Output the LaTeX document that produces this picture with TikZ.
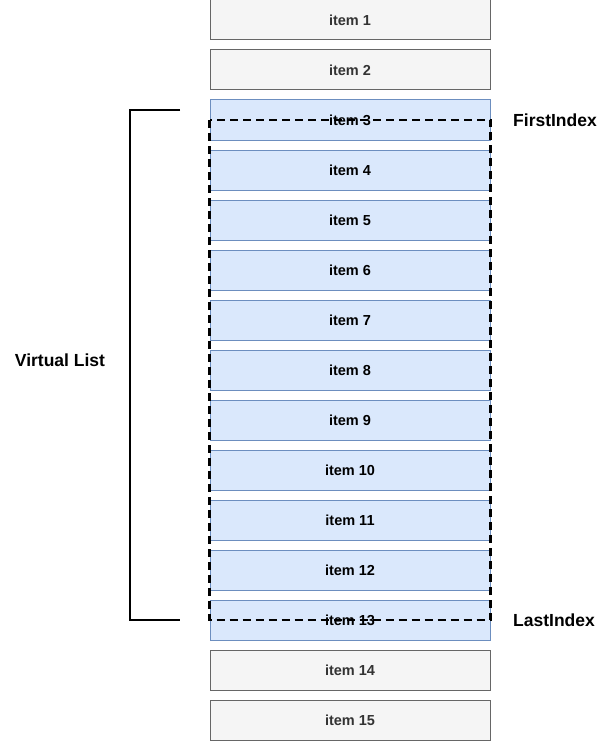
\documentclass[tikz,border=0pt]{standalone}
\usepackage{fontspec}
\setmainfont{Liberation Sans}
\usetikzlibrary{positioning}

\tikzset{
	item/.style={draw, line width=1pt, minimum width=280pt, minimum height=40pt, inner sep=0pt, font=\fontsize{14.5}{16}\selectfont\bfseries},
	outside/.style={item, draw=gray666, fill=gray245, text=gray333},
	inside/.style={item, draw=blueline, fill=bluefill, text=black},
	window/.style={draw, line width=2.6pt, dash pattern=on 8pt off 5pt},
	tag/.style={font=\fontsize{17.5}{20}\selectfont\bfseries, inner sep=0pt}
}
\definecolor{gray666}{HTML}{666666}
\definecolor{gray245}{HTML}{F5F5F5}
\definecolor{gray333}{HTML}{333333}
\definecolor{blueline}{HTML}{6C8EBF}
\definecolor{bluefill}{HTML}{DAE8FC}

\begin{document}
\begin{tikzpicture}[x=1pt, y=-1pt]

	\useasboundingbox (0,0) rectangle (601,741);

	% Draw items
	\foreach \i in {1,...,15} {
		\ifnum\i<3
			\node[outside] (item\i) at (350,{50*\i-30}) {item \i};
		\else\ifnum\i>13
			\node[outside] (item\i) at (350,{50*\i-30}) {item \i};
		\else
			\node[inside] (item\i) at (350,{50*\i-30}) {item \i};
		\fi\fi
	}

	% Draw visible window
	\coordinate (wintop) at (item3.west |- 0,120);
	\coordinate (winbot) at (item13.east |- 0,620);
	\draw[window] (wintop) rectangle (winbot);

	% Draw bracket
	\coordinate (brtop) at (180,110);
	\coordinate (brbot) at (180,620);
	\draw[line width=2pt] (brtop) -- ++(-50,0) -- ++(0,510) -- (brbot);

	% Draw labels
	\node[tag, anchor=west] (first) at (513,120) {FirstIndex};
	\node[tag, anchor=west] (last) at (513,620) {LastIndex};
	\node[tag] (vlist) at (60,360) {Virtual List};

\end{tikzpicture}
\end{document}
